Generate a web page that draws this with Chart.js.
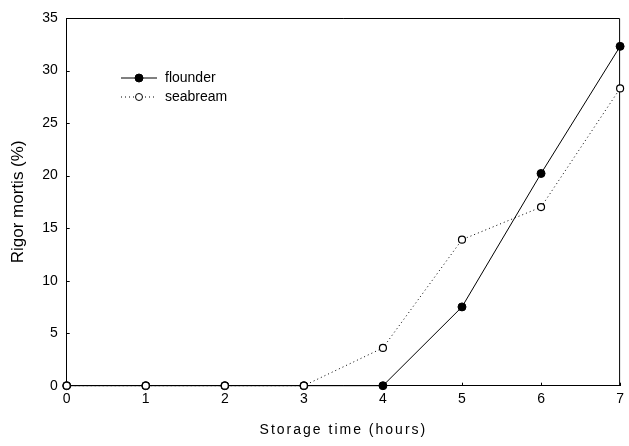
<!DOCTYPE html>
<html>
<head>
<meta charset="utf-8">
<script src="https://cdn.jsdelivr.net/npm/chart.js@4/dist/chart.umd.min.js"></script>
<style>
html,body{margin:0;padding:0;background:#fff;}
#wrap{width:629px;height:446px;position:relative;}
</style>
</head>
<body>
<div id="wrap"><canvas id="c" width="629" height="446"></canvas></div>
<script>
const hours = [0, 1, 2, 3, 4, 5, 6, 7];
const flounder = [0, 0, 0, 0, 0, 7.5, 20.2, 32.3];
const seabream = [0, 0, 0, 0, 3.6, 13.9, 17.0, 28.3];
const seriesNames = ['flounder', 'seabream'];
const xTitle = 'Storage time (hours)';
const yTitle = 'Rigor mortis (%)';

const FONT = "'Liberation Sans', Arial, sans-serif";

const boxAndLegend = {
  id: 'boxAndLegend',
  beforeDatasetsDraw(chart) {
    const ctx = chart.ctx;
    const a = chart.chartArea;
    ctx.save();
    ctx.strokeStyle = '#000';
    ctx.lineWidth = 1;
    ctx.beginPath();
    ctx.moveTo(a.left, a.top + 0.5);
    ctx.lineTo(a.right - 0.5, a.top + 0.5);
    ctx.lineTo(a.right - 0.5, a.bottom);
    ctx.stroke();
    // inward ticks
    const xs = chart.scales.x, ys = chart.scales.y;
    ctx.beginPath();
    xs.ticks.forEach(t => {
      const px = Math.round(xs.getPixelForValue(t.value)) + 0.5;
      ctx.moveTo(px, a.bottom);
      ctx.lineTo(px, a.bottom - 3);
    });
    ys.ticks.forEach(t => {
      const py = Math.round(ys.getPixelForValue(t.value)) + 0.5;
      ctx.moveTo(a.left, py);
      ctx.lineTo(a.left + 3, py);
    });
    ctx.stroke();
    // legend
    const items = [
      {y: 78, dash: [], fill: '#000', r: 4},
      {y: 97, dash: [1, 3], fill: '#fff', r: 3.5}
    ];
    items.forEach((it, i) => {
      ctx.setLineDash(it.dash);
      ctx.beginPath();
      ctx.moveTo(121, it.y);
      ctx.lineTo(157, it.y);
      ctx.stroke();
      ctx.setLineDash([]);
      ctx.beginPath();
      ctx.arc(139, it.y, it.r, 0, Math.PI * 2);
      ctx.fillStyle = it.fill;
      ctx.fill();
      ctx.stroke();
      ctx.fillStyle = '#000';
      ctx.font = '14px ' + FONT;
      ctx.textBaseline = 'middle';
      ctx.textAlign = 'left';
      ctx.fillText(seriesNames[i], 165, it.y);
    });
    ctx.restore();
  }
};

new Chart(document.getElementById('c'), {
  type: 'line',
  data: {
    datasets: [
      {
        label: seriesNames[0],
        data: hours.map((h, i) => ({x: h, y: flounder[i]})),
        borderColor: '#000',
        borderWidth: 1,
        backgroundColor: '#000',
        pointBackgroundColor: '#000',
        pointBorderColor: '#000',
        pointRadius: 4,
        pointBorderWidth: 1,
        tension: 0,
        clip: false,
        order: 2
      },
      {
        label: seriesNames[1],
        data: hours.map((h, i) => ({x: h, y: seabream[i]})),
        borderColor: '#000',
        borderWidth: 1,
        borderDash: [1, 3],
        backgroundColor: '#fff',
        pointBackgroundColor: '#fff',
        pointBorderColor: '#000',
        pointRadius: 3.5,
        pointBorderWidth: 1.2,
        tension: 0,
        clip: false,
        order: 1
      }
    ]
  },
  options: {
    responsive: false,
    animation: false,
    devicePixelRatio: 1,
    layout: {padding: {left: 0, right: 4, top: 18, bottom: 0}},
    plugins: {legend: {display: false}, tooltip: {enabled: false}},
    scales: {
      x: {
        type: 'linear',
        min: 0, max: 7,
        grid: {display: false, drawTicks: false},
        border: {display: true, color: '#000', width: 1},
        ticks: {stepSize: 1, color: '#000', padding: 5, maxRotation: 0, font: {family: FONT, size: 14}},
        title: {display: true, text: xTitle, color: '#000', font: {family: FONT, size: 14}, padding: {top: 4, bottom: 7.5}},
        afterFit(s) { s.height = 60.3; },
        afterUpdate(s) {
          if (!s._lsPatched) {
            const o = s.drawTitle;
            s.drawTitle = function () { const c = this.ctx; c.save(); c.letterSpacing = '2px'; o.apply(this, arguments); c.restore(); };
            s._lsPatched = true;
          }
        }
      },
      y: {
        min: 0, max: 35,
        grid: {display: false, drawTicks: false},
        border: {display: true, color: '#000', width: 1},
        ticks: {stepSize: 5, color: '#000', padding: 9, font: {family: FONT, size: 14}},
        title: {display: true, text: yTitle, color: '#000', font: {family: FONT, size: 17}, padding: {top: 8, bottom: 0}},
        afterFit(s) { s.width = 66.7; }
      }
    }
  },
  plugins: [boxAndLegend]
});
</script>
</body>
</html>
